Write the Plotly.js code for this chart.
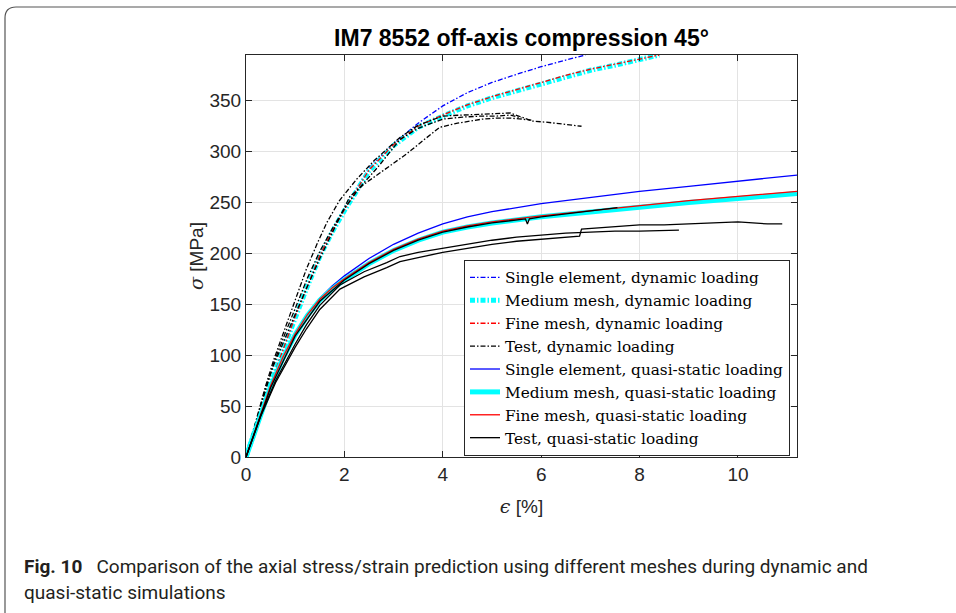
<!DOCTYPE html>
<html>
<head>
<meta charset="utf-8">
<script src="https://cdn.plot.ly/plotly-3.0.1.min.js"></script>
<style>
  html, body { margin: 0; padding: 0; background: #ffffff; }
  #chart { width: 956px; height: 613px; }
</style>
</head>
<body>
<div id="chart"></div>
<script>
// ---------------- DATA ----------------
const chartTitle = "IM7 8552 off-axis compression 45°";
const xTitle = "<span style=\"font-family:'DejaVu Serif'\"><i>ϵ</i></span> [%]";
const yTitle = "<span style=\"font-family:'DejaVu Serif'\"><i>σ</i></span> [MPa]";
const xTickVals = [0, 2, 4, 6, 8, 10];
const yTickVals = [0, 50, 100, 150, 200, 250, 300, 350];

const legendNames = [
  "Single element, dynamic loading",
  "Medium mesh, dynamic loading",
  "Fine mesh, dynamic loading",
  "Test, dynamic loading",
  "Single element, quasi-static loading",
  "Medium mesh, quasi-static loading",
  "Fine mesh, quasi-static loading",
  "Test, quasi-static loading"
];

// Dynamic simulations
const epsDynSingle = [0, 0.25, 0.5, 0.75, 1.0, 1.25, 1.5, 1.75, 2.0, 2.5, 3.0, 3.5, 4.0, 4.5, 5.0, 5.5, 6.0, 6.5, 6.9];
const sigDynSingle = [0, 37, 72, 105, 138, 168, 198, 222, 244, 284, 308, 328, 345, 358, 368, 376, 383.5, 390, 395];

const epsDyn = [0, 0.25, 0.5, 0.75, 1.0, 1.25, 1.5, 1.75, 2.0, 2.5, 3.0, 3.5, 4.0, 4.5, 5.0, 5.5, 6.0, 6.5, 7.0, 7.5, 8.0, 8.4];
const sigDynMedium = [0, 37, 72, 105, 138, 168, 197, 221, 242, 281, 306, 324, 335, 345, 353, 360, 367, 374, 380, 385, 390, 395];
const sigDynFine = [0, 37, 72, 105, 138, 168, 198, 222, 243, 282, 307, 325, 336, 346, 354, 361, 368, 375, 381, 386, 391, 395];

// Dynamic tests (three specimens)
const epsDynTest1 = [0, 0.2, 0.4, 0.56, 0.8, 1.0, 1.23, 1.45, 1.64, 1.9, 2.25, 2.6, 3.0, 3.13, 3.5, 4.0, 4.4, 4.8, 5.1, 5.37, 5.6, 5.83, 6.1, 6.3, 6.55, 6.82];
const sigDynTest1 = [0, 36, 70, 95, 127, 153, 185, 210, 230, 252, 273, 291, 308, 314, 326, 335, 336, 337, 338, 338, 334, 330, 329, 328, 327, 325];
const epsDynTest2 = [0, 0.2, 0.4, 0.56, 0.8, 1.0, 1.25, 1.5, 1.75, 2.0, 2.3, 2.7, 3.13, 3.5, 4.0, 4.4, 4.8, 5.1, 5.37, 5.6];
const sigDynTest2 = [0, 33, 66, 92, 122, 146, 176, 202, 224, 244, 264, 286, 312, 323, 332, 334, 335, 335, 336, 333];
const epsDynTest3 = [0, 0.2, 0.4, 0.56, 0.8, 1.0, 1.25, 1.5, 1.8, 2.11, 2.4, 2.72, 3.0, 3.27, 3.6, 3.94, 4.3, 4.8, 5.1, 5.37, 5.6, 5.8];
const sigDynTest3 = [0, 34, 68, 90, 118, 140, 168, 195, 225, 256, 268, 279, 288, 298, 311, 324, 328, 332, 333, 333, 332, 331];

// Quasi-static simulations
const epsQS = [0, 0.25, 0.5, 0.75, 1.0, 1.25, 1.5, 1.75, 2.0, 2.5, 3.0, 3.5, 4.0, 4.5, 5.0, 6.0, 7.0, 8.0, 9.0, 10.0, 11.2];
const sigQSSingle = [0, 36, 70, 98, 121, 140, 156, 168, 178, 195, 209, 220, 229, 236, 241, 249, 255, 261, 266, 271, 277];
const sigQSMedium = [0, 35, 69, 97, 120, 139, 154, 165, 174, 190, 203, 213, 221, 226, 230, 236, 241, 246, 250, 254, 259];
const sigQSFine = [0, 36, 70, 98, 121, 140, 155, 166, 175, 191, 204, 214, 222, 227, 231, 237, 242, 247, 252, 256, 261];

// Quasi-static tests (three specimens)
const epsQSTestA = [0, 0.3, 0.6, 1.0, 1.23, 1.5, 1.91, 2.4, 2.86, 3.13, 3.5, 4.0, 4.5, 5.0, 5.5, 6.0, 6.5, 6.78, 6.82, 7.5, 8.0, 8.5, 9.0, 9.5, 10.0, 10.3, 10.6, 10.9];
const sigQSTestA = [0, 40, 73, 108, 126, 145, 165, 177, 186, 192, 196, 201, 205, 209, 212, 214, 216, 217, 224, 226, 228, 228, 229, 230, 231, 230, 229, 229];
const epsQSTestB = [0, 0.3, 0.6, 1.0, 1.23, 1.5, 1.91, 2.4, 2.86, 3.13, 3.5, 4.0, 4.5, 5.0, 5.5, 6.0, 6.5, 7.0, 7.5, 8.0, 8.5, 8.8];
const sigQSTestB = [0, 41, 75, 111, 130, 149, 169, 182, 191, 197, 201, 205, 209, 213, 216, 218, 220, 221, 222, 222, 223, 223];
const epsQSTestC = [0, 0.5, 1.0, 1.5, 2.0, 2.5, 3.0, 3.5, 4.0, 4.5, 5.0, 5.5, 5.68, 5.72, 5.76, 6.0, 6.5, 7.0, 7.2, 7.55];
const sigQSTestC = [0, 68, 119, 153, 174, 190, 203, 213, 221, 226, 230, 233, 234, 229, 234, 236, 239, 242, 243, 245];

const captionBold = "Fig. 10";
const captionLine1 = "Comparison of the axial stress/strain prediction using different meshes during dynamic and";
const captionLine2 = "quasi-static simulations";

// ---------------- STYLE ----------------
const dashDyn = "5px,2px,1.5px,2px";
const thin = 1.3;
const thick = 5;

function tr(x, y, name, color, width, dash, group, showLeg) {
  return {
    x: x, y: y, type: "scatter", mode: "lines", name: name,
    line: { color: color, width: width, dash: dash },
    legendgroup: group, showlegend: showLeg, hoverinfo: "skip"
  };
}

const traces = [
  tr(epsDynSingle, sigDynSingle, legendNames[0], "#0000ff", thin, dashDyn, "g0", true),
  tr(epsDyn, sigDynMedium, legendNames[1], "#00ffff", thick, dashDyn, "g1", true),
  tr(epsDyn, sigDynFine, legendNames[2], "#ff0000", thin, dashDyn, "g2", true),
  tr(epsDynTest1, sigDynTest1, legendNames[3], "#000000", thin, dashDyn, "g3", true),
  tr(epsDynTest2, sigDynTest2, legendNames[3], "#000000", thin, dashDyn, "g3", false),
  tr(epsDynTest3, sigDynTest3, legendNames[3], "#000000", thin, dashDyn, "g3", false),
  tr(epsQS, sigQSSingle, legendNames[4], "#0000ff", thin, "solid", "g4", true),
  tr(epsQS, sigQSMedium, legendNames[5], "#00ffff", thick, "solid", "g5", true),
  tr(epsQS, sigQSFine, legendNames[6], "#ff0000", thin, "solid", "g6", true),
  tr(epsQSTestC, sigQSTestC, legendNames[7], "#000000", thin, "solid", "g7", true),
  tr(epsQSTestA, sigQSTestA, legendNames[7], "#000000", thin, "solid", "g7", false),
  tr(epsQSTestB, sigQSTestB, legendNames[7], "#000000", thin, "solid", "g7", false)
];

// plot area in pixels
const W = 956, H = 613;
const mL = 246, mR = 159, mT = 55, mB = 156;
const pw = W - mL - mR, ph = H - mT - mB;
const px = v => (v - mL) / pw;
const py = v => (H - mB - v) / ph;

const borderPath =
  "M" + px(5) + "," + py(630) +
  " L" + px(5) + "," + py(18) +
  " Q" + px(5) + "," + py(7) + " " + px(16) + "," + py(7) +
  " L" + px(980) + "," + py(7);

const axisCommon = {
  showline: true, linecolor: "#262626", linewidth: 1,
  mirror: "ticks", ticks: "inside", ticklen: 6, tickcolor: "#262626",
  showgrid: true, gridcolor: "#e3e3e3", gridwidth: 1,
  zeroline: false, fixedrange: true,
  tickfont: { family: "Liberation Sans, Arial, sans-serif", size: 19, color: "#262626" }
};

const titleFont = { family: "Liberation Sans, Arial, sans-serif", size: 19, color: "#262626" };

const layout = {
  width: W, height: H,
  margin: { l: mL, r: mR, t: mT, b: mB, pad: 0 },
  paper_bgcolor: "#ffffff", plot_bgcolor: "#ffffff",
  title: {
    text: "<b>" + chartTitle + "</b>",
    font: { family: "Liberation Sans, Arial, sans-serif", size: 23, color: "#000000" },
    x: 0.5, xref: "paper", xanchor: "center",
    y: 1 - 38 / H, yref: "container", yanchor: "middle"
  },
  xaxis: Object.assign({}, axisCommon, {
    range: [0, 11.2], tickvals: xTickVals, ticktext: xTickVals.map(String),
    title: { text: xTitle, font: titleFont, standoff: 15 }
  }),
  yaxis: Object.assign({}, axisCommon, {
    range: [0, 395], tickvals: yTickVals, ticktext: yTickVals.map(String),
    title: { text: yTitle, font: titleFont, standoff: 0 }
  }),
  showlegend: true,
  legend: {
    x: px(464), y: py(260), xanchor: "left", yanchor: "top",
    xref: "paper", yref: "paper",
    bgcolor: "#ffffff", bordercolor: "#262626", borderwidth: 1,
    font: { family: "DejaVu Serif, Liberation Serif, serif", size: 15.3, color: "#000000" },
    tracegroupgap: 0, itemwidth: 30, traceorder: "normal"
  },
  shapes: [{
    type: "path", xref: "paper", yref: "paper", path: borderPath,
    line: { color: "#555555", width: 1.2 }, layer: "above"
  }],
  annotations: [
    {
      xref: "paper", yref: "paper", x: px(22), y: py(566), xanchor: "left", yanchor: "middle",
      showarrow: false, align: "left",
      text: "<b>" + captionBold + "</b>\u00a0\u00a0\u00a0" + captionLine1,
      font: { family: "Roboto, Open Sans, sans-serif", size: 19, color: "#231f20" }
    },
    {
      xref: "paper", yref: "paper", x: px(22), y: py(592), xanchor: "left", yanchor: "middle",
      showarrow: false, align: "left",
      text: captionLine2,
      font: { family: "Roboto, Open Sans, sans-serif", size: 19, color: "#231f20" }
    }
  ]
};

Plotly.newPlot("chart", traces, layout, { displayModeBar: false, staticPlot: true });
</script>
</body>
</html>
